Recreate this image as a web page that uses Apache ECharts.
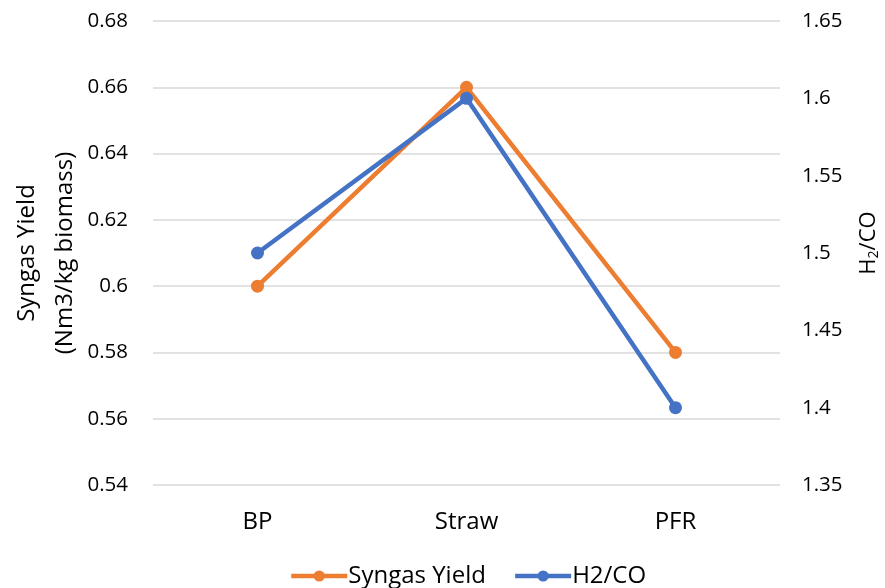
<!DOCTYPE html>
<html><head><meta charset="utf-8">
<script src="https://cdn.jsdelivr.net/npm/echarts@6/dist/echarts.min.js"></script>
<style>html,body{margin:0;padding:0;background:#fff}#c{width:885px;height:588px}</style>
</head><body><div id="c"></div>
<script>
const categories = ['BP', 'Straw', 'PFR'];
const syngasYield = [0.60, 0.66, 0.58];
const h2co = [1.5, 1.6, 1.4];
const leftTicks = {min: 0.54, max: 0.68, interval: 0.02};
const rightTicks = {min: 1.35, max: 1.65, interval: 0.05};

const F = 'Open Sans';
const FS = 20.5;
const FL = 24;
const chart = echarts.init(document.getElementById('c'));
chart.setOption({
  animation: false,
  textStyle: {fontFamily: F},
  grid: {left: 153, right: 105, top: 21, bottom: 103, containLabel: false, outerBoundsMode: 'none'},
  legend: {
    left: 284, top: 559, itemWidth: 56, itemHeight: 14, itemGap: 27,
    lineStyle: {width: 4.5},
    textStyle: {fontFamily: F, fontSize: FL, color: '#000', padding: [0,0,0,-4]},
    data: ['Syngas Yield', 'H2/CO']
  },
  xAxis: {
    type: 'category', data: categories,
    axisLine: {show: false}, axisTick: {show: false},
    axisLabel: {fontFamily: F, fontSize: FL, color: '#000', margin: 25}
  },
  yAxis: [
    {type: 'value', min: leftTicks.min, max: leftTicks.max, interval: leftTicks.interval,
     axisLabel: {fontFamily: F, fontSize: FS, color: '#000', margin: 25, formatter: v => String(+v.toFixed(2))},
     splitLine: {lineStyle: {color: '#d9d9d9', width: 1.5}},
     name: 'Syngas Yield\n(Nm3/kg biomass)', nameLocation: 'middle', nameRotate: 90, nameGap: 69,
     nameMoveOverlap: false,
     nameTextStyle: {fontFamily: F, fontSize: FL, color: '#000', lineHeight: 38}
    },
    {type: 'value', min: rightTicks.min, max: rightTicks.max, interval: rightTicks.interval,
     axisLabel: {fontFamily: F, fontSize: FS, color: '#000', margin: 22, formatter: v => String(+v.toFixed(2))},
     splitLine: {show: false},
     name: '{a|H}{s|2}{a|/CO}', nameLocation: 'middle', nameRotate: 90, nameGap: 76,
     nameMoveOverlap: false,
     nameTextStyle: {padding: [0, 0, 0, 20], rich: {a: {fontFamily: F, fontSize: 22, color: '#000'}, s: {fontFamily: F, fontSize: 14, color: '#000', padding: [11,0,0,0]}}}
    }
  ],
  series: [
    {name: 'Syngas Yield', type: 'line', yAxisIndex: 0, data: syngasYield,
     color: '#ED7D31', lineStyle: {width: 4.5}, symbol: 'circle', symbolSize: 13},
    {name: 'H2/CO', type: 'line', yAxisIndex: 1, data: h2co,
     color: '#4472C4', lineStyle: {width: 4.5}, symbol: 'circle', symbolSize: 13}
  ]
});
</script></body></html>
